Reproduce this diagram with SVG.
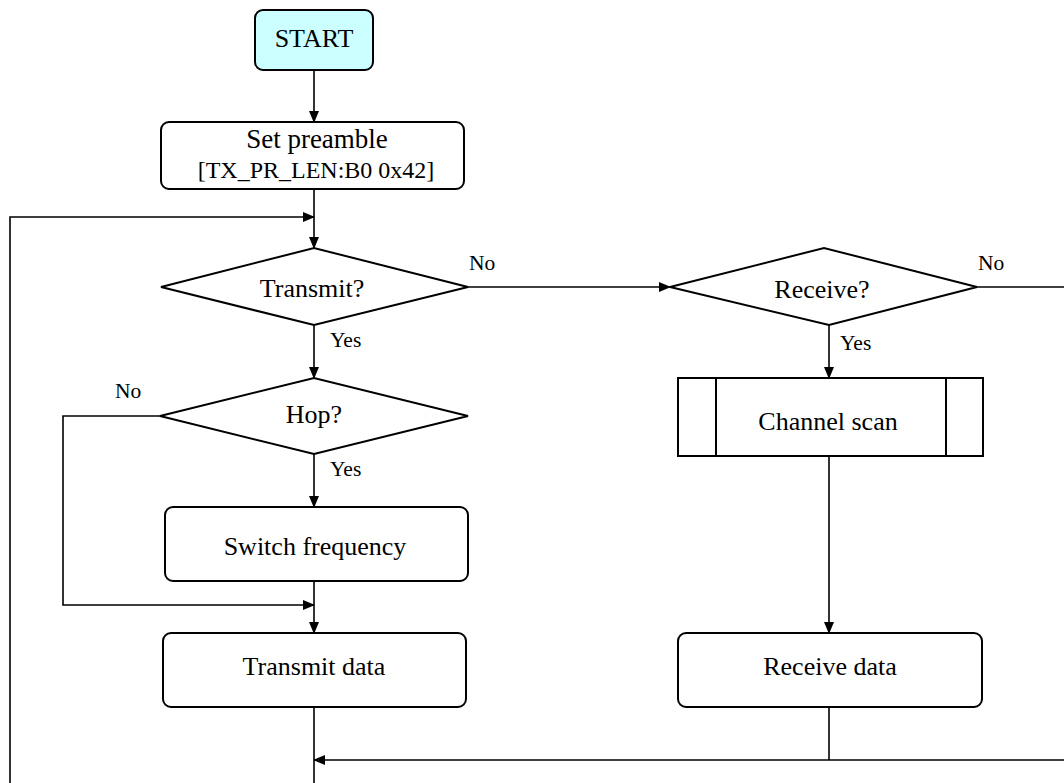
<svg xmlns="http://www.w3.org/2000/svg" width="1064" height="783" viewBox="0 0 1064 783">
<style>
.box{fill:#fff;stroke:#000;stroke-width:2}
.start{fill:#ccffff;stroke:#000;stroke-width:2}
.t{font-family:"Liberation Serif","Times New Roman",serif;font-size:26px;fill:#000;text-anchor:middle}
.lbl{font-family:"Liberation Serif","Times New Roman",serif;font-size:21.5px;fill:#000}
.c{fill:none;stroke:#000;stroke-width:1.6}
</style>
<defs>
<marker id="arr" markerWidth="12" markerHeight="10" refX="11" refY="5" orient="auto" markerUnits="userSpaceOnUse">
<path d="M0,0 L12,5 L0,10 Z" fill="#000"/>
</marker>
</defs>
<rect width="1064" height="783" fill="#fff"/>
<g id="connectors">
<path class="c" d="M314,70 V122" marker-end="url(#arr)"/>
<path class="c" d="M314,189 V248" marker-end="url(#arr)"/>
<path class="c" d="M10,783 V217 H314" marker-end="url(#arr)"/>
<path class="c" d="M468,287 H670" marker-end="url(#arr)"/>
<path class="c" d="M977,287 H1064"/>
<path class="c" d="M314,325 V378" marker-end="url(#arr)"/>
<path class="c" d="M314,454 V507" marker-end="url(#arr)"/>
<path class="c" d="M160,416 H63 V605 H314" marker-end="url(#arr)"/>
<path class="c" d="M314,581 V633" marker-end="url(#arr)"/>
<path class="c" d="M829,325 V378" marker-end="url(#arr)"/>
<path class="c" d="M829,456 V633" marker-end="url(#arr)"/>
<path class="c" d="M314,707 V783"/>
<path class="c" d="M829,707 V760"/>
<path class="c" d="M1064,760 H314" marker-end="url(#arr)"/>
<text class="lbl" x="469" y="270">No</text>
<text class="lbl" x="978" y="270">No</text>
<text class="lbl" x="330" y="347">Yes</text>
<text class="lbl" x="840" y="350">Yes</text>
<text class="lbl" x="115" y="398">No</text>
<text class="lbl" x="330" y="476">Yes</text>
</g>
<g id="start">
<rect class="start" x="255" y="10" width="118" height="60" rx="8"/>
<text class="t" x="314" y="47">START</text>
</g>
<g id="preamble">
<rect class="box" x="161" y="122" width="303" height="67" rx="8"/>
<text class="t" x="317" y="148" style="font-size:27px">Set preamble</text>
<text class="t" x="316" y="178" style="font-size:24px">[TX_PR_LEN:B0 0x42]</text>
</g>
<g id="transmit">
<polygon class="box" points="161,287 314,248 468,287 314,325"/>
<text class="t" x="312" y="297">Transmit?</text>
</g>
<g id="receive">
<polygon class="box" points="670,287 824,248 977,287 829,325"/>
<text class="t" x="822" y="298">Receive?</text>
</g>
<g id="hop">
<polygon class="box" points="160,416 314,378 468,416 314,454"/>
<text class="t" x="314" y="423">Hop?</text>
</g>
<g id="switch">
<rect class="box" x="165" y="507" width="303" height="74" rx="8"/>
<text class="t" x="315" y="555">Switch frequency</text>
</g>
<g id="scan">
<rect class="box" x="678" y="378" width="305" height="78"/>
<line class="box" x1="716" y1="378" x2="716" y2="456"/>
<line class="box" x1="946" y1="378" x2="946" y2="456"/>
<text class="t" x="828" y="430">Channel scan</text>
</g>
<g id="txdata">
<rect class="box" x="163" y="633" width="303" height="74" rx="8"/>
<text class="t" x="314" y="675">Transmit data</text>
</g>
<g id="rxdata">
<rect class="box" x="678" y="633" width="304" height="74" rx="8"/>
<text class="t" x="830" y="675">Receive data</text>
</g>
</svg>
